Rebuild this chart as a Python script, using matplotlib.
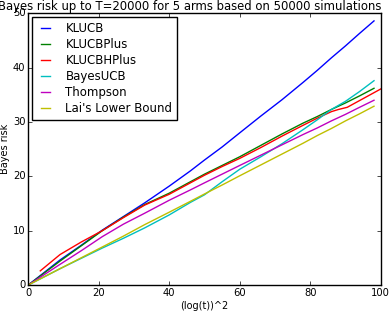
import matplotlib
matplotlib.use('Agg')
import matplotlib.pyplot as plt

# x positions, (log(t))^2
x = [0, 9, 15, 21, 27, 33, 40, 46, 50, 55, 60, 66, 72, 78, 82, 86, 90, 94, 98.1]
klucb = [0, 4.6, 7.3, 10.1, 12.6, 15.1, 18.2, 21.0, 23.0, 25.4, 28.0, 31.1, 34.1, 37.3, 39.5, 41.8, 44.0, 46.3, 48.6]
klucbplus = [0, 4.4, 7.2, 10.0, 12.5, 14.8, 16.9, 19.0, 20.4, 22.0, 23.6, 25.7, 27.8, 29.8, 31.0, 32.3, 33.5, 34.8, 36.2]
bayesucb = [0, 3.0, 4.9, 6.8, 8.6, 10.5, 12.9, 15.2, 16.6, 19.0, 21.3, 23.6, 26.0, 28.6, 30.4, 32.3, 33.8, 35.6, 37.6]
thompson = [0, 3.8, 6.3, 8.9, 11.2, 13.2, 15.6, 17.5, 18.8, 20.4, 22.0, 23.9, 25.8, 27.7, 28.9, 30.2, 31.4, 32.7, 34.0]
lai = [0, 3.0, 5.0, 7.0, 9.0, 11.1, 13.4, 15.4, 16.75, 18.4, 20.1, 22.1, 24.1, 26.1, 27.5, 28.8, 30.2, 31.5, 32.9]

# KLUCBHPlus has its own x points
x_h = [3.4, 9, 15, 21, 27, 33, 40, 46, 50, 55, 60, 66, 72, 78, 82, 86, 88, 90.5, 95.3, 101.5]
klucbhplus = [2.6, 5.6, 7.9, 10.0, 12.4, 14.7, 16.7, 18.8, 20.2, 21.8, 23.3, 25.3, 27.4, 29.4, 30.7, 31.9, 32.3, 32.7, 34.4, 36.6]

plt.style.use('classic')
plt.rcParams['font.family'] = 'DejaVu Sans'

fig = plt.figure(figsize=(3.92, 3.12), dpi=100, facecolor='white')
ax = fig.add_axes([28.3/392, 27/312, 352.4/392, 271.7/312])

ax.plot(x, klucb, color='b', lw=1.0, label='KLUCB')
ax.plot(x, klucbplus, color='g', lw=1.0, label='KLUCBPlus')
ax.plot(x_h, klucbhplus, color='r', lw=1.0, label='KLUCBHPlus')
ax.plot(x, bayesucb, color='c', lw=1.0, label='BayesUCB')
ax.plot(x, thompson, color='m', lw=1.0, label='Thompson')
ax.plot(x, lai, color='y', lw=1.0, label="Lai's Lower Bound")

ax.set_xlim(0, 100)
ax.set_ylim(0, 50)
ax.set_xticks([0, 20, 40, 60, 80, 100])
ax.set_yticks([0, 10, 20, 30, 40, 50])
ax.tick_params(labelsize=7.2, length=3, pad=2)
ax.set_xlabel('(log(t))^2', fontsize=7, labelpad=2)
ax.set_ylabel('Bayes risk', fontsize=7, labelpad=2)

ax.legend(loc='upper left', fontsize=8.5, handlelength=1.4, handletextpad=1.0,
          borderaxespad=0.35, labelspacing=0.25, borderpad=0.4, frameon=True)

fig.text(190/392, 1 - 10/312, 'Bayes risk up to T=20000 for 5 arms based on 50000 simulations',
         ha='center', va='baseline', fontsize=8.4)

plt.savefig('out.png', dpi=100, facecolor='white')
